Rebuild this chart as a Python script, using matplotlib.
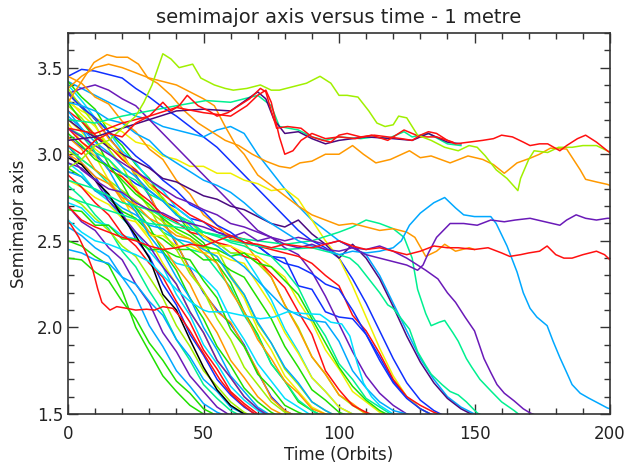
import matplotlib
matplotlib.use('Agg')
import matplotlib.pyplot as plt
from matplotlib.ticker import MultipleLocator

# colores (tabla tipo arco iris de IDL)
PURPLE = '#6a1ab8'
DKPURPLE = '#4a0a80'
BLUE = '#1030ff'
LBLUE = '#00a8ff'
CYAN = '#00e0ff'
GCYAN = '#00f090'
GREEN = '#20e000'
YGREEN = '#a0f000'
YELLOW = '#f0f000'
ORANGE = '#ff9900'
RED = '#ff1010'
BLACK = '#000000'

# rejilla de tiempo (órbitas) para las curvas cortas, cada 5 órbitas
t5 = list(range(0, 205, 5))

# --- curvas que caen pronto (fin ~50-70 órbitas) ---
a_green1 = [2.50, 2.47, 2.41, 2.36, 2.21, 2.00, 1.86, 1.72, 1.63, 1.55, 1.50, 1.47]
a_lblue1 = [2.58, 2.53, 2.46, 2.41, 2.29, 2.18, 2.01, 1.89, 1.75, 1.66, 1.56, 1.51, 1.48]
a_purple1 = [2.70, 2.61, 2.56, 2.46, 2.39, 2.25, 2.14, 1.97, 1.86, 1.72, 1.63, 1.54, 1.49]
a_gcyan1 = [2.82, 2.75, 2.65, 2.57, 2.44, 2.35, 2.21, 2.09, 1.93, 1.81, 1.67, 1.59, 1.52, 1.48]
a_ygreen1 = [2.76, 2.71, 2.63, 2.56, 2.47, 2.41, 2.29, 2.17, 2.01, 1.89, 1.75, 1.66, 1.57, 1.51, 1.47]
a_blue1 = [3.05, 2.95, 2.87, 2.75, 2.66, 2.51, 2.41, 2.25, 2.13, 1.96, 1.84, 1.70, 1.61, 1.54, 1.49]
a_cyan1 = [2.95, 2.89, 2.79, 2.73, 2.63, 2.55, 2.44, 2.35, 2.19, 2.07, 1.90, 1.79, 1.66, 1.58, 1.52, 1.48]
a_yellow1 = [3.18, 3.07, 2.99, 2.85, 2.75, 2.61, 2.51, 2.37, 2.25, 2.09, 1.97, 1.81, 1.71, 1.60, 1.53, 1.49]
a_black = [2.98, 2.94, 2.85, 2.77, 2.64, 2.53, 2.40, 2.19, 2.10, 1.93, 1.77, 1.64, 1.55, 1.50, 1.47]
a_green2 = [3.30, 3.19, 3.09, 2.94, 2.83, 2.69, 2.58, 2.44, 2.33, 2.17, 2.05, 1.89, 1.78, 1.65, 1.57, 1.51, 1.47]
a_orange1 = [3.10, 3.03, 2.91, 2.85, 2.73, 2.67, 2.55, 2.47, 2.35, 2.25, 2.09, 1.97, 1.81, 1.71, 1.60, 1.53, 1.49]
a_ygreen2 = [3.38, 3.27, 3.17, 3.03, 2.93, 2.79, 2.69, 2.55, 2.45, 2.31, 2.21, 2.05, 1.93, 1.77, 1.67, 1.57, 1.51, 1.48]
a_lblue2 = [3.25, 3.15, 3.01, 2.91, 2.77, 2.67, 2.53, 2.43, 2.29, 2.17, 2.00, 1.87, 1.72, 1.63, 1.54, 1.49]
a_purple2 = [3.00, 2.91, 2.85, 2.73, 2.65, 2.55, 2.47, 2.35, 2.25, 2.09, 1.97, 1.81, 1.71, 1.60, 1.53, 1.48]
a_red1 = [2.88, 2.81, 2.72, 2.65, 2.54, 2.47, 2.37, 2.29, 2.15, 2.03, 1.87, 1.76, 1.63, 1.56, 1.50, 1.47]
a_lblue5 = [2.45, 2.43, 2.39, 2.37, 2.29, 2.25, 2.15, 2.07, 1.93, 1.83, 1.70, 1.63, 1.54, 1.50, 1.47]
a_green5 = [2.40, 2.39, 2.32, 2.27, 2.15, 2.05, 1.91, 1.81, 1.69, 1.62, 1.53, 1.49]

# curva roja con meseta en 2.1
t_redflat = [0, 4, 7, 9, 11, 12.5, 15.5, 18, 21.8, 25, 29, 32, 35, 38.7, 42, 45, 48, 52, 56, 60, 64, 68, 70]
a_redflat = [2.62, 2.52, 2.42, 2.34, 2.22, 2.145, 2.10, 2.12, 2.11, 2.10, 2.105, 2.10, 2.12, 2.11,
             2.05, 1.98, 1.90, 1.80, 1.70, 1.62, 1.56, 1.51, 1.49]

# --- curvas que caen entre ~75 y ~115 órbitas ---
b_blue_o = [3.36, 3.28, 3.20, 3.10, 3.00, 2.88, 2.76, 2.62, 2.48, 2.34, 2.20, 2.10, 2.02, 1.90, 1.74, 1.60, 1.52, 1.48]
b_orange = [3.35, 3.27, 3.21, 3.09, 3.01, 2.87, 2.77, 2.61, 2.49, 2.33, 2.21, 2.09, 2.03, 1.89, 1.75, 1.59, 1.52, 1.48]
b_green = [3.42, 3.33, 3.26, 3.13, 3.05, 2.94, 2.86, 2.74, 2.66, 2.55, 2.49, 2.37, 2.26, 2.09, 1.96, 1.79, 1.69, 1.57, 1.52, 1.48]
b_yellow = [3.20, 3.13, 3.03, 2.97, 2.87, 2.81, 2.69, 2.63, 2.55, 2.51, 2.45, 2.41, 2.29, 2.17, 1.99, 1.87, 1.72, 1.63, 1.54, 1.50, 1.47]
b_cyan = [3.40, 3.31, 3.21, 3.13, 3.02, 2.95, 2.85, 2.79, 2.69, 2.63, 2.53, 2.49, 2.43, 2.41, 2.29, 2.16, 1.99, 1.86, 1.71, 1.63, 1.54, 1.50, 1.47]
b_gcyan = [3.05, 2.97, 2.91, 2.83, 2.77, 2.69, 2.63, 2.55, 2.51, 2.45, 2.43, 2.33, 2.23, 2.07, 1.95, 1.79, 1.69, 1.58, 1.52, 1.48]
b_ygreen = [3.28, 3.21, 3.11, 3.06, 2.97, 2.91, 2.81, 2.75, 2.65, 2.61, 2.53, 2.49, 2.43, 2.43, 2.37, 2.29, 2.13, 2.00, 1.83, 1.73, 1.61, 1.55, 1.50, 1.47]
b_green2 = [2.92, 2.87, 2.79, 2.75, 2.67, 2.63, 2.55, 2.51, 2.45, 2.45, 2.39, 2.39, 2.33, 2.29, 2.17, 2.05, 1.89, 1.77, 1.64, 1.58, 1.51, 1.48]
b_orange2 = [3.45, 3.41, 3.33, 3.29, 3.19, 3.13, 3.03, 2.97, 2.85, 2.77, 2.65, 2.59, 2.51, 2.49, 2.39, 2.29, 2.13, 1.99, 1.83, 1.73, 1.61, 1.56, 1.50, 1.47]
b_red = [3.15, 3.07, 3.01, 2.91, 2.87, 2.79, 2.73, 2.65, 2.61, 2.55, 2.53, 2.49, 2.47, 2.41, 2.39, 2.31, 2.23, 2.09, 1.96, 1.75, 1.64, 1.55, 1.51, 1.48]
b_lblue = [2.90, 2.87, 2.79, 2.75, 2.69, 2.65, 2.59, 2.57, 2.51, 2.49, 2.45, 2.41, 2.29, 2.19, 2.03, 1.91, 1.77, 1.68, 1.57, 1.52, 1.48]
b_yellow2 = [3.32, 3.23, 3.16, 3.05, 2.99, 2.89, 2.83, 2.73, 2.67, 2.57, 2.53, 2.47, 2.47, 2.43, 2.41, 2.35, 2.29, 2.15, 2.03, 1.87, 1.76, 1.63, 1.57, 1.51, 1.48]
b_green3 = [3.12, 3.05, 2.97, 2.93, 2.85, 2.77, 2.71, 2.63, 2.57, 2.53, 2.47, 2.45, 2.41, 2.43, 2.37, 2.35, 2.27, 2.19, 2.05, 1.91, 1.77, 1.66, 1.58, 1.52, 1.48]
b_lblue3 = [3.22, 3.15, 3.07, 3.01, 2.93, 2.87, 2.79, 2.73, 2.65, 2.59, 2.51, 2.47, 2.41, 2.35, 2.27, 2.19, 2.11, 2.07, 2.04, 2.03, 1.92, 1.75, 1.65, 1.57, 1.52, 1.50, 1.48]
b_ygreen3 = [3.02, 2.97, 2.91, 2.85, 2.79, 2.73, 2.67, 2.61, 2.55, 2.51, 2.46, 2.45, 2.30, 2.19, 2.02, 1.91, 1.76, 1.67, 1.57, 1.52, 1.48]
b_green4 = [2.68, 2.67, 2.59, 2.59, 2.51, 2.51, 2.45, 2.45, 2.41, 2.39, 2.27, 2.17, 1.99, 1.89, 1.73, 1.65, 1.55, 1.51, 1.48]
b_yellow3 = [2.85, 2.81, 2.75, 2.71, 2.63, 2.61, 2.53, 2.53, 2.47, 2.47, 2.43, 2.43, 2.39, 2.37, 2.25, 2.13, 1.97, 1.85, 1.71, 1.63, 1.54, 1.50, 1.47]
b_orange4 = [3.00, 2.95, 2.87, 2.83, 2.75, 2.71, 2.63, 2.59, 2.53, 2.51, 2.43, 2.37, 2.21, 2.09, 1.93, 1.82, 1.69, 1.62, 1.53, 1.50, 1.47]
b_cyan4 = [2.72, 2.69, 2.61, 2.59, 2.53, 2.51, 2.45, 2.43, 2.37, 2.35, 2.29, 2.21, 2.05, 1.93, 1.79, 1.69, 1.59, 1.54, 1.49]
b_gcyan4 = [3.15, 3.11, 3.01, 2.97, 2.89, 2.85, 2.77, 2.73, 2.65, 2.61, 2.55, 2.53, 2.49, 2.47, 2.43, 2.41, 2.33, 2.23, 2.07, 1.95, 1.79, 1.70, 1.59, 1.54, 1.49]

# meseta cian en ~2.08
t_cyanflat = [0, 5, 10, 15, 20, 25, 30, 35, 40, 45, 50, 52, 58, 64, 71, 76, 81, 87, 93, 97, 101, 104, 106.6, 109, 112, 115, 118, 121]
a_cyanflat = [2.62, 2.55, 2.50, 2.48, 2.45, 2.42, 2.38, 2.30, 2.22, 2.15, 2.10, 2.09, 2.09, 2.07, 2.05, 2.06,
              2.09, 2.08, 2.075, 2.03, 2.02, 1.95, 1.80, 1.68, 1.60, 1.55, 1.52, 1.49]

# --- curvas que caen entre ~120 y ~150 órbitas ---
c_blue = [3.10, 3.04, 2.99, 2.93, 2.89, 2.83, 2.79, 2.73, 2.69, 2.63, 2.61, 2.55, 2.53, 2.49, 2.47, 2.41, 2.40,
          2.24, 2.22, 2.09, 2.06, 2.05, 1.96, 1.83, 1.69, 1.60, 1.53, 1.49]
c_red = [3.25, 3.19, 3.11, 3.05, 2.97, 2.91, 2.83, 2.77, 2.71, 2.65, 2.61, 2.57, 2.53, 2.51, 2.47, 2.45, 2.43,
         2.41, 2.37, 2.30, 2.24, 2.07, 1.98, 1.85, 1.70, 1.60, 1.55, 1.51, 1.48]
c_blue2 = [3.35, 3.27, 3.21, 3.13, 3.07, 2.99, 2.93, 2.85, 2.79, 2.71, 2.67, 2.59, 2.55, 2.49, 2.47, 2.41, 2.37,
           2.35, 2.31, 2.25, 2.22, 2.10, 1.96, 1.81, 1.68, 1.59, 1.53, 1.49]
c_yellow = [3.30, 3.25, 3.21, 3.17, 3.13, 3.07, 3.05, 2.99, 2.97, 2.93, 2.93, 2.89, 2.89, 2.85, 2.83, 2.79, 2.80,
            2.74, 2.62, 2.50, 2.40, 2.24, 2.06, 1.88, 1.72, 1.60, 1.53, 1.49]
c_dkpurple = [3.20, 3.14, 3.10, 3.04, 3.00, 2.96, 2.92, 2.86, 2.84, 2.80, 2.76, 2.74, 2.70, 2.68, 2.64, 2.60,
              2.58, 2.62, 2.54, 2.48, 2.40, 2.48, 2.40, 2.28, 2.12, 1.95, 1.80, 1.68, 1.59, 1.53, 1.49]
c_blue3 = [3.45, 3.49, 3.48, 3.46, 3.44, 3.38, 3.33, 3.27, 3.22, 3.16, 3.10, 3.04, 2.96, 2.88, 2.80, 2.72, 2.64,
           2.56, 2.50, 2.46, 2.40, 2.28, 2.14, 1.98, 1.82, 1.68, 1.58, 1.52, 1.48]
c_purple3 = [3.35, 3.38, 3.40, 3.37, 3.32, 3.28, 3.20, 3.12, 3.04, 2.96, 2.88, 2.80, 2.72, 2.64, 2.56, 2.52,
             2.46, 2.42, 2.32, 2.18, 2.02, 1.86, 1.72, 1.62, 1.55, 1.50, 1.47]
c_lblue4 = [3.42, 3.38, 3.34, 3.30, 3.26, 3.22, 3.20, 3.16, 3.14, 3.12, 3.10, 3.14, 3.16, 3.12, 3.00, 2.90, 2.80,
            2.70, 2.62, 2.56, 2.50, 2.46, 2.42, 2.30, 2.14, 1.98, 1.82, 1.70, 1.60, 1.54, 1.50, 1.47]

# --- curvas largas ---
t_gr151 = [0, 10, 20, 30, 40, 50, 60, 70, 80, 90, 100, 104, 107, 111, 115, 118, 120, 123, 126, 129, 132, 134,
           138, 141, 144, 147, 151, 153]
a_gr151 = [2.85, 2.80, 2.72, 2.68, 2.60, 2.55, 2.50, 2.47, 2.45, 2.46, 2.42, 2.40, 2.36, 2.28, 2.20, 2.13, 2.11,
           2.05, 1.99, 1.86, 1.78, 1.73, 1.67, 1.63, 1.61, 1.57, 1.506, 1.49]

t_gr165 = [0, 10, 20, 30, 40, 50, 60, 70, 80, 90, 100, 105, 110, 115, 120, 124, 127, 129, 132, 134, 137, 139,
           142, 144, 147, 149, 152, 156, 160, 164.6, 167]
a_gr165 = [2.75, 2.70, 2.65, 2.60, 2.58, 2.55, 2.52, 2.50, 2.48, 2.50, 2.55, 2.58, 2.62, 2.60, 2.57, 2.52, 2.40,
           2.22, 2.08, 2.01, 2.03, 2.04, 1.97, 1.92, 1.82, 1.77, 1.70, 1.634, 1.57, 1.52, 1.49]

t_purdrop = [0, 5, 10, 15, 20, 25, 30, 35, 40, 45, 50, 55, 60, 65, 70, 75, 80, 85, 90, 95, 100, 105, 110, 115,
             120, 125, 129, 132, 136.5, 140, 143, 146.5, 150, 153.5, 156, 158.3, 161, 164.6, 168, 170.5, 173]
a_purdrop = [3.15, 3.10, 3.05, 3.00, 2.95, 2.90, 2.85, 2.80, 2.75, 2.72, 2.68, 2.65, 2.60, 2.58, 2.55, 2.52,
             2.50, 2.52, 2.50, 2.48, 2.50, 2.46, 2.45, 2.47, 2.44, 2.40, 2.36, 2.33, 2.28, 2.20, 2.145, 2.06,
             1.98, 1.82, 1.74, 1.67, 1.62, 1.576, 1.53, 1.506, 1.49]

t_lbump = [0, 5, 10, 15, 20, 25, 30, 35, 40, 45, 50, 55, 60, 65, 70, 75, 80, 85, 90, 95, 100, 105, 110, 115,
           120, 123, 126, 130, 135, 139, 143, 146, 150, 156, 158, 162, 165.7, 168, 170.5, 173, 176.8, 179,
           181.5, 184, 186, 189, 192, 196, 199, 200]
a_lbump = [3.30, 3.28, 3.25, 3.20, 3.18, 3.12, 3.08, 3.00, 2.95, 2.90, 2.85, 2.82, 2.78, 2.72, 2.65, 2.60,
           2.55, 2.50, 2.47, 2.45, 2.42, 2.44, 2.43, 2.44, 2.46, 2.50, 2.59, 2.66, 2.72, 2.75, 2.69, 2.65,
           2.64, 2.64, 2.60, 2.47, 2.32, 2.20, 2.11, 2.06, 2.01, 1.92, 1.826, 1.74, 1.67, 1.62, 1.593, 1.56,
           1.535, 1.53]

t_pur26 = [0, 5, 10, 15, 20, 25, 30, 35, 40, 45, 50, 55, 60, 65, 70, 75, 80, 85, 90, 95, 100, 105, 110, 115,
           120, 125, 129, 131, 133, 136, 141, 146, 151, 156, 161, 165, 170.5, 176, 181.5, 184, 187.5, 191, 195,
           199, 200]
a_pur26 = [2.95, 2.92, 2.85, 2.80, 2.78, 2.72, 2.68, 2.66, 2.62, 2.60, 2.58, 2.55, 2.52, 2.55, 2.50, 2.52,
           2.48, 2.46, 2.48, 2.45, 2.44, 2.46, 2.42, 2.40, 2.38, 2.36, 2.33, 2.36, 2.43, 2.52, 2.60, 2.60, 2.59,
           2.62, 2.61, 2.62, 2.63, 2.61, 2.59, 2.62, 2.65, 2.63, 2.62, 2.63, 2.63]

t_red24 = [0, 5, 10, 15, 20, 25, 30, 35, 40, 45, 50, 55, 60, 65, 70, 75, 80, 85, 90, 95, 100, 105, 110, 115,
           120, 125, 130, 135, 140, 144, 150, 155, 160, 163, 167, 170, 174, 176.8, 180, 183, 186, 190, 195,
           198, 200]
a_red24 = [2.70, 2.62, 2.58, 2.55, 2.52, 2.50, 2.47, 2.45, 2.46, 2.48, 2.47, 2.50, 2.53, 2.49, 2.48, 2.46,
           2.48, 2.47, 2.46, 2.48, 2.50, 2.47, 2.45, 2.46, 2.44, 2.42, 2.44, 2.47, 2.46, 2.46, 2.45, 2.46, 2.43,
           2.41, 2.42, 2.43, 2.44, 2.47, 2.42, 2.40, 2.40, 2.42, 2.44, 2.42, 2.39]

t_or3 = [0, 5, 10, 15, 20, 25, 30, 35, 40, 45, 50, 54, 58, 62, 65, 70, 75, 80, 85, 90, 95, 100, 105, 110, 115,
         120, 125, 128, 132, 136, 139, 143, 148, 150]
a_or3 = [3.38, 3.45, 3.50, 3.52, 3.50, 3.47, 3.44, 3.42, 3.40, 3.36, 3.32, 3.28, 3.16, 3.05, 3.00, 2.88, 2.82,
         2.76, 2.70, 2.65, 2.62, 2.59, 2.60, 2.58, 2.56, 2.57, 2.55, 2.52, 2.41, 2.44, 2.48, 2.44, 2.46, 2.45]

t_or29 = [0, 5, 9.6, 14.4, 18, 22, 26, 29.5, 33, 38, 43, 48, 53, 58, 63, 68, 73, 78, 82, 85.6, 90, 95, 100,
          105, 109, 113.6, 119, 126, 130, 134, 141, 147.6, 153, 157, 161, 165.7, 170.5, 174, 178, 184, 189,
          191, 195, 199, 200]
a_or29 = [3.30, 3.42, 3.53, 3.575, 3.56, 3.56, 3.52, 3.44, 3.41, 3.34, 3.25, 3.18, 3.13, 3.08, 3.05, 3.00,
          2.96, 2.93, 2.92, 2.95, 2.96, 3.00, 3.00, 3.05, 3.00, 2.95, 2.97, 3.02, 2.98, 2.99, 2.95, 2.99, 2.97,
          2.94, 2.89, 2.95, 2.977, 3.00, 3.035, 3.03, 2.91, 2.855, 2.84, 2.826, 2.82]

t_gctop = [0, 10, 20, 30, 40, 51, 60, 70, 75, 78, 85, 90, 95, 100, 108, 113, 118, 124, 127, 133, 140, 145]
a_gctop = [3.20, 3.18, 3.22, 3.25, 3.28, 3.31, 3.30, 3.34, 3.28, 3.16, 3.14, 3.10, 3.08, 3.10, 3.09, 3.10,
           3.09, 3.13, 3.10, 3.12, 3.06, 3.05]

t_dptop = [0, 10, 20, 30, 40, 50, 60, 70, 73, 76, 80, 85, 90, 95, 100, 110, 120, 127, 133, 140, 145]
a_dptop = [3.08, 3.10, 3.15, 3.20, 3.25, 3.26, 3.25, 3.36, 3.32, 3.20, 3.12, 3.13, 3.09, 3.06, 3.08, 3.10,
           3.09, 3.08, 3.12, 3.07, 3.06]

t_red30 = [0, 5, 10, 15, 20, 25, 30, 35, 38, 41, 44, 48, 52, 55, 59, 63, 67, 71, 73, 75, 77, 81, 86, 90, 94,
           97, 100, 103, 108, 113, 118, 123, 127, 130, 133, 136, 140, 143, 148, 153, 157, 160, 164, 168, 170.5,
           174, 177, 181.5, 184, 188, 191, 195, 199, 200]
a_red30 = [3.05, 3.00, 3.08, 3.12, 3.10, 3.18, 3.22, 3.30, 3.25, 3.28, 3.34, 3.28, 3.25, 3.22, 3.24, 3.28,
           3.32, 3.38, 3.36, 3.25, 3.15, 3.16, 3.15, 3.10, 3.08, 3.07, 3.11, 3.12, 3.10, 3.11, 3.10, 3.09, 3.08,
           3.11, 3.13, 3.12, 3.08, 3.06, 3.07, 3.08, 3.09, 3.11, 3.10, 3.07, 3.05, 3.06, 3.06, 3.02, 3.05, 3.09,
           3.11, 3.07, 3.02, 3.01]

t_red30b = [0, 10, 20, 30, 40, 50, 60, 66, 70, 73, 75, 78, 80, 83, 86, 90, 95, 100, 106, 112, 118, 124, 130,
            136, 142]
a_red30b = [3.15, 3.12, 3.18, 3.22, 3.27, 3.24, 3.22, 3.28, 3.34, 3.37, 3.30, 3.10, 3.00, 3.02, 3.08, 3.12,
            3.09, 3.10, 3.09, 3.11, 3.08, 3.14, 3.10, 3.10, 3.07]

t_yg = [0, 5, 10, 15, 20, 25, 28, 31, 35, 38, 41, 46, 49, 54, 58, 61, 66, 71, 75, 78, 83, 88, 93, 97, 100,
        103, 107, 111, 114, 117, 120, 122, 125, 129, 134, 139, 144, 148, 151, 154, 158, 162, 166, 167, 170, 172,
        177, 181, 186, 190, 195, 199, 200]
a_yg = [2.92, 2.97, 3.05, 3.08, 3.15, 3.22, 3.30, 3.40, 3.58, 3.55, 3.50, 3.52, 3.44, 3.40, 3.38, 3.37, 3.38,
        3.40, 3.37, 3.37, 3.39, 3.41, 3.45, 3.41, 3.34, 3.34, 3.33, 3.25, 3.18, 3.16, 3.17, 3.22, 3.21, 3.11,
        3.08, 3.04, 3.02, 3.05, 3.04, 2.99, 2.91, 2.86, 2.79, 2.86, 2.97, 3.02, 3.01, 3.04, 3.04, 3.05, 3.05,
        3.02, 3.01]

# tablas para dibujar (orden de dibujo)
short_lines = [
    (b_blue_o, BLUE), (a_green1, GREEN), (c_blue3, BLUE), (a_lblue1, LBLUE), (b_yellow, YELLOW),
    (a_purple1, PURPLE), (c_lblue4, LBLUE), (b_orange, ORANGE), (a_gcyan1, GCYAN), (b_green, GREEN),
    (a_ygreen1, YGREEN), (c_blue, BLUE), (a_blue1, BLUE), (b_cyan, CYAN), (a_cyan1, CYAN),
    (b_ygreen3, YGREEN), (a_green5, GREEN), (b_cyan4, CYAN),
    (c_yellow, YELLOW), (b_gcyan, GCYAN), (a_yellow1, YELLOW), (c_purple3, PURPLE), (b_ygreen, YGREEN),
    (a_green2, GREEN), (b_green2, GREEN), (c_red, RED), (a_orange1, ORANGE), (b_orange2, ORANGE),
    (b_green4, GREEN), (b_yellow3, YELLOW), (a_lblue5, LBLUE),
    (a_ygreen2, YGREEN), (c_blue2, BLUE), (b_red, RED), (a_lblue2, LBLUE), (b_lblue, LBLUE),
    (c_dkpurple, DKPURPLE), (a_purple2, PURPLE), (b_yellow2, YELLOW), (a_red1, RED), (b_green3, GREEN),
    (b_orange4, ORANGE), (b_gcyan4, GCYAN),
    (b_lblue3, LBLUE), (a_black, BLACK),
]
long_lines = [
    (t_redflat, a_redflat, RED), (t_cyanflat, a_cyanflat, CYAN), (t_gr151, a_gr151, GCYAN),
    (t_gr165, a_gr165, GCYAN), (t_purdrop, a_purdrop, PURPLE), (t_or3, a_or3, ORANGE),
    (t_lbump, a_lbump, LBLUE), (t_pur26, a_pur26, PURPLE), (t_red24, a_red24, RED),
    (t_or29, a_or29, ORANGE), (t_gctop, a_gctop, GCYAN), (t_dptop, a_dptop, DKPURPLE),
    (t_red30b, a_red30b, RED), (t_yg, a_yg, YGREEN), (t_red30, a_red30, RED),
]

fig = plt.figure(figsize=(6.29, 4.66), dpi=100)
ax = fig.add_axes([68 / 629, 1 - 414 / 466, (610 - 68) / 629, (414 - 33) / 466])

for a, c in short_lines:
    ax.plot(t5[:len(a)], a, color=c, lw=1.1)
for t, a, c in long_lines:
    ax.plot(t, a, color=c, lw=1.1)

ax.set_xlim(0, 200)
ax.set_ylim(1.5, 3.7)
ax.xaxis.set_major_locator(MultipleLocator(50))
ax.xaxis.set_minor_locator(MultipleLocator(10))
ax.yaxis.set_minor_locator(MultipleLocator(0.1))
ax.set_yticks([1.5, 2.0, 2.5, 3.0, 3.5])
ax.set_yticklabels(['1.5', '2.0', '2.5', '3.0', '3.5'])
ax.tick_params(which='both', direction='in', top=True, right=True, colors='#333333', labelcolor='#222222',
               labelsize=12, width=1.0)
ax.tick_params(axis='x', which='both', pad=8)
ax.tick_params(which='major', length=7)
ax.tick_params(which='minor', length=4)
for s in ax.spines.values():
    s.set_color('#333333')
    s.set_linewidth(1.2)

ax.set_title('semimajor axis versus time - 1 metre', fontsize=14, color='#222222', pad=7)
ax.set_xlabel('Time (Orbits)', fontsize=12, color='#222222', labelpad=2)
ax.set_ylabel('Semimajor axis', fontsize=12, color='#222222', labelpad=6)

fig.savefig('out.png', dpi=100)
